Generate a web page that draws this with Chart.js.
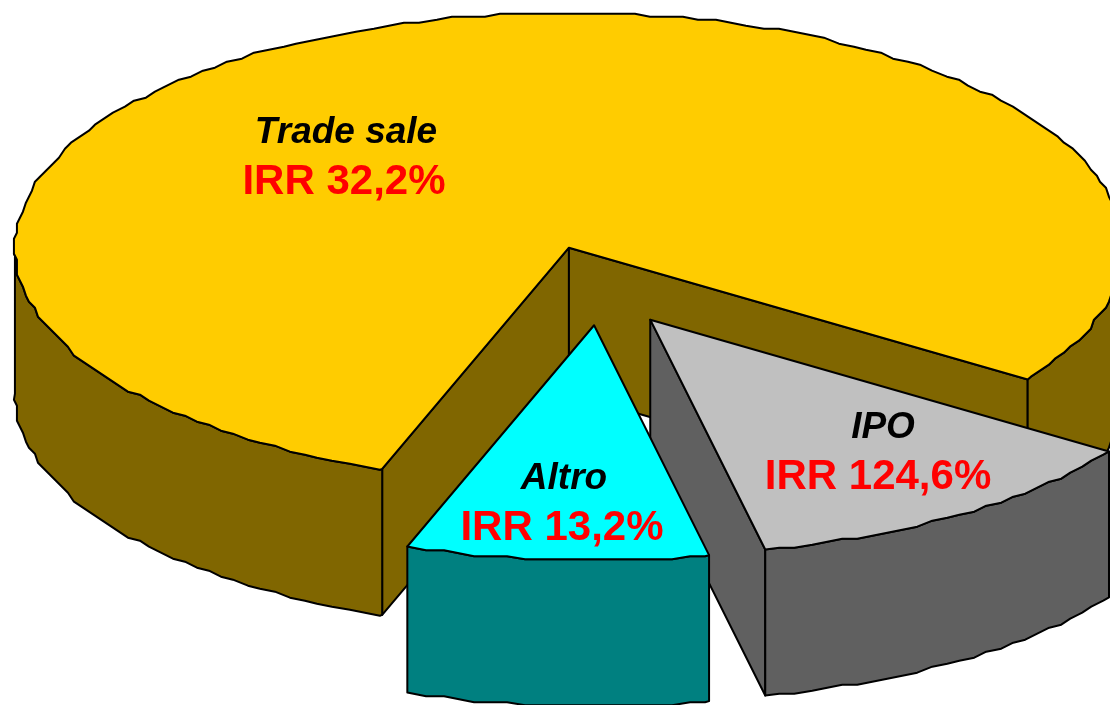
<!DOCTYPE html>
<html>
<head>
<meta charset="utf-8">
<title>IRR per tipo di exit</title>
<script src="https://cdn.jsdelivr.net/npm/chart.js@4"></script>
<style>
  html, body { margin: 0; padding: 0; background: #fff; overflow: hidden; }
  canvas { display: block; }
</style>
</head>
<body>
<canvas id="pie3d" width="1110" height="705"></canvas>
<script>
// ==== Data ====
const categories = ['Trade sale', 'IPO', 'Altro'];
const shares = [79, 12.2, 8.8];
const irrLabels = ['IRR 32,2%', 'IRR 124,6%', 'IRR 13,2%'];

// ==== Look ====
const explode = [100, 90, 88];
const topColors = ['#FFCC00', '#C0C0C0', '#00FFFF'];
const sideColors = ['#806600', '#606060', '#008080'];
const labelSpots = [[346, 143, 344, 194], [883, 438, 878, 489], [564, 489, 562, 540]];

// the pie in perspective: centre, radii of the ellipse, height of the walls
const centerX = 600, centerY = 288, radiusX = 554, radiusY = 235, depth = 146;
const snap = 3;       // old metafile look, the rim is a coarse polyline
const rimStep = 0.03; // radians between rim points

function rimPoint(a, ox, oy, rough) {
  const x = radiusX * Math.cos(a), y = radiusY * Math.sin(a);
  if (!rough) return [ox + x, oy + y];
  // snap relative to the slice centre so top and wall share the same points
  return [ox + Math.round(x / snap) * snap, oy + Math.round(y / snap) * snap];
}

function rimPoints(a1, a2, ox, oy) {
  const pts = [rimPoint(a1, ox, oy, false)];
  for (let k = Math.floor(a1 / rimStep) + 1; k * rimStep < a2; k++) {
    pts.push(rimPoint(k * rimStep, ox, oy, true));
  }
  pts.push(rimPoint(a2, ox, oy, false));
  return pts;
}

function drawPoly(ctx, pts, fill) {
  ctx.beginPath();
  pts.forEach((p, i) => i ? ctx.lineTo(p[0], p[1]) : ctx.moveTo(p[0], p[1]));
  ctx.closePath();
  ctx.fillStyle = fill;
  ctx.fill();
  ctx.stroke();
}

function drawSlice(ctx, arc, i) {
  const start = arc.startAngle, end = arc.endAngle;
  const mid = (start + end) / 2;
  const off = arc.options.offset;
  const ox = centerX + off * Math.cos(mid);
  const oy = centerY + off * Math.sin(mid) * radiusY / radiusX;
  const side = sideColors[i];

  // radial faces, only the ones turned to the viewer
  [[start, start - Math.PI / 2], [end, end + Math.PI / 2]].forEach(([a, normal]) => {
    if (Math.sin(normal) <= 0) return;
    const p = rimPoint(a, ox, oy, false);
    drawPoly(ctx, [[ox, oy], p, [p[0], p[1] + depth], [ox, oy + depth]], side);
  });

  // outer wall, front half of the circle only
  for (let k = 0; k < 2; k++) {
    const a1 = Math.max(start, k * 2 * Math.PI);
    const a2 = Math.min(end, k * 2 * Math.PI + Math.PI);
    if (a2 <= a1) continue;
    const up = rimPoints(a1, a2, ox, oy);
    const down = up.map(p => [p[0], p[1] + depth]).reverse();
    drawPoly(ctx, up.concat(down), side);
  }

  // top face
  drawPoly(ctx, [[ox, oy]].concat(rimPoints(start, end, ox, oy)), topColors[i]);
}

const pie3d = {
  id: 'pie3d',
  beforeDatasetDraw(chart, args) {
    const ctx = chart.ctx;
    ctx.save();
    ctx.lineWidth = 2;
    ctx.lineJoin = 'round';
    ctx.strokeStyle = '#000';
    args.meta.data.forEach((arc, i) => drawSlice(ctx, arc, i));
    ctx.restore();
    return false;
  },
  afterDatasetsDraw(chart) {
    const ctx = chart.ctx;
    ctx.save();
    ctx.textAlign = 'center';
    categories.forEach((name, i) => {
      const s = labelSpots[i];
      ctx.font = 'italic bold 37px "Liberation Sans"';
      ctx.fillStyle = '#000';
      ctx.fillText(name, s[0], s[1]);
      ctx.font = 'bold 42px "Liberation Sans"';
      ctx.fillStyle = '#FF0000';
      ctx.fillText(irrLabels[i], s[2], s[3]);
    });
    ctx.restore();
  }
};

new Chart(document.getElementById('pie3d'), {
  type: 'pie',
  data: {
    labels: categories,
    datasets: [{ data: shares, offset: explode, backgroundColor: topColors, borderColor: '#000' }]
  },
  options: {
    responsive: false,
    animation: false,
    rotation: 199.7,
    plugins: { legend: { display: false }, tooltip: { enabled: false } }
  },
  plugins: [pie3d]
});
</script>
</body>
</html>
